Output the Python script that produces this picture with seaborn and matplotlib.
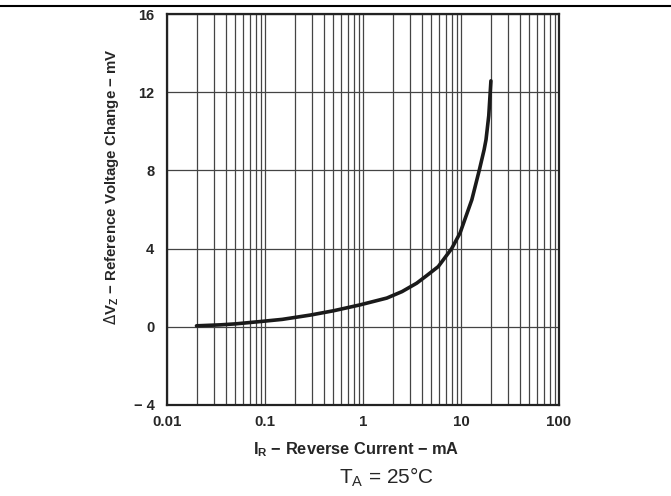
import matplotlib
matplotlib.use('Agg')
import matplotlib.pyplot as plt
import seaborn as sns
import pandas as pd
from matplotlib.lines import Line2D
from matplotlib.ticker import LogLocator, NullFormatter, FixedLocator

# values
current_ma = [0.02, 0.035, 0.05, 0.09, 0.15, 0.29, 0.5, 0.93, 1.75, 2.5, 3.53, 4.47,
              5.86, 8.03, 9.77, 12.9, 15.4, 17.2, 18.0, 19.2, 20.2]
delta_vz_mv = [0.05, 0.1, 0.15, 0.27, 0.38, 0.6, 0.82, 1.12, 1.47, 1.8, 2.23, 2.62,
               3.08, 4.0, 4.79, 6.5, 8.03, 9.05, 9.57, 10.8, 12.58]

x_ticks = [0.01, 0.1, 1, 10, 100]
x_tick_labels = ['0.01', '0.1', '1', '10', '100']
y_ticks = [-4, 0, 4, 8, 12, 16]
y_tick_labels = ['\u2212 4', '0', '4', '8', '12', '16']

sns.set_style('white')
plt.rcParams['font.family'] = ['Liberation Sans', 'DejaVu Sans']

df = pd.DataFrame({'I': current_ma, 'V': delta_vz_mv})

fig = plt.figure(figsize=(6.71, 4.96), dpi=100)
ax = fig.add_axes([167 / 671, 91 / 496, 392 / 671, 391 / 496])

sns.lineplot(data=df, x='I', y='V', ax=ax, color='#1a1a1a', linewidth=2.6,
             sort=False, estimator=None, zorder=5)

ax.set_xscale('log')
ax.set_xlim(0.01, 100)
ax.set_ylim(-4, 16)

# grid: every decade subdivision vertically, every tick horizontally
ax.xaxis.set_major_locator(FixedLocator(x_ticks))
ax.xaxis.set_minor_locator(LogLocator(base=10, subs=range(2, 10)))
ax.xaxis.set_minor_formatter(NullFormatter())
ax.set_xticklabels(x_tick_labels)
ax.set_yticks(y_ticks)
ax.set_yticklabels(y_tick_labels)
ax.grid(True, which='major', axis='both', color='#444444', linewidth=0.9)
ax.grid(True, which='minor', axis='x', color='#444444', linewidth=0.9)

ax.tick_params(which='both', length=0)
ax.tick_params(axis='x', pad=7, labelsize=10.8)
ax.tick_params(axis='y', pad=9, labelsize=10.5)
for lbl in ax.get_xticklabels() + ax.get_yticklabels():
    lbl.set_fontweight('bold')

for sp in ax.spines.values():
    sp.set_visible(True)
    sp.set_color('#222222')
    sp.set_linewidth(1.6)

ax.set_xlabel('I$_\\mathregular{R}$ \u2212 Reverse Current \u2212 mA',
              fontweight='bold', fontsize=11.8)
ax.xaxis.set_label_coords((356 - 167) / 392, -(440 - 405) / 391)
ax.set_ylabel('$\\Delta$V$_\\mathregular{Z}$ \u2212 Reference Voltage Change \u2212 mV',
              fontweight='bold', fontsize=10.8)
ax.yaxis.set_label_coords(-(167 - 121) / 392, (405 - 187) / 391)

fig.text(386 / 671, 1 - 483 / 496, 'T$_\\mathregular{A}$ = 25°C', ha='center', va='baseline',
         fontsize=15)

# rule across the top of the page
fig.add_artist(Line2D([0, 1], [1 - 6 / 496, 1 - 6 / 496], color='black', linewidth=1.5))

fig.savefig('out.png', dpi=100)
